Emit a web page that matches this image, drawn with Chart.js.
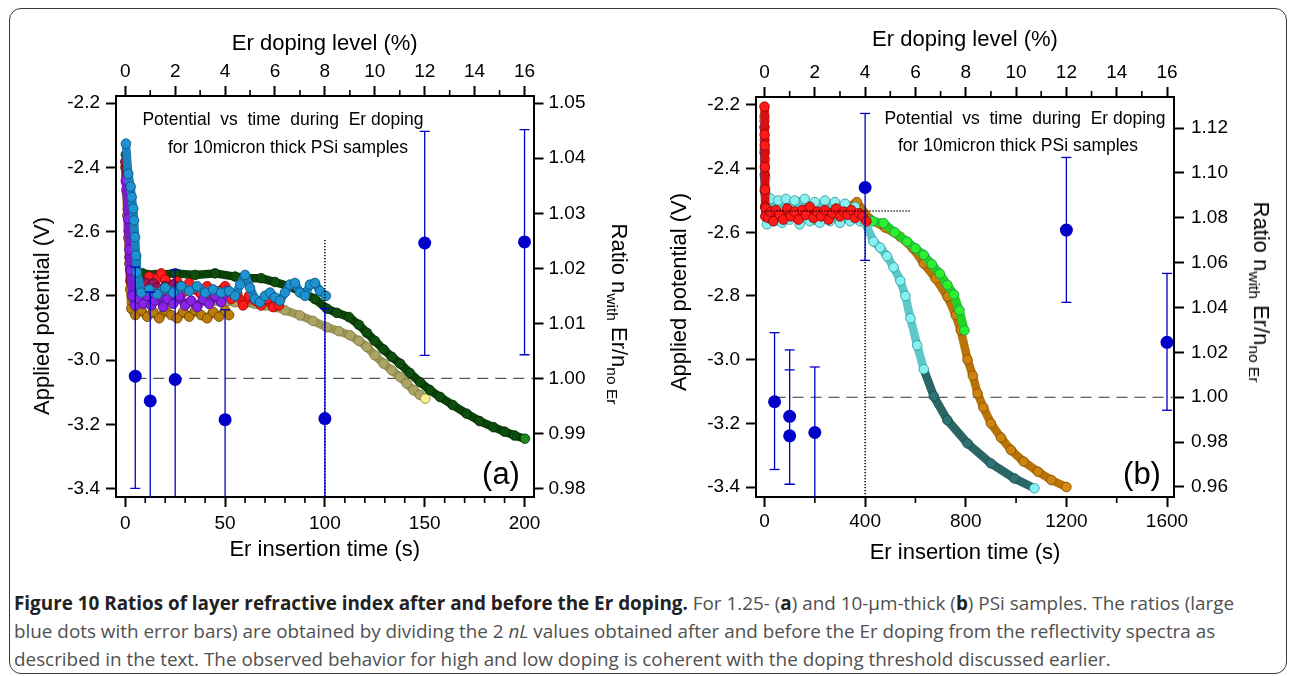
<!DOCTYPE html>
<html>
<head>
<meta charset="utf-8">
<title>Figure 10</title>
<script src="https://cdn.jsdelivr.net/npm/chart.js@4.4.1/dist/chart.umd.min.js"></script>
<style>
  body { margin: 0; background: #fff; }
  #page { position: relative; width: 1290px; height: 676px; overflow: hidden; background: #fff;
          font-family: "Liberation Sans", Arial, sans-serif; }
  .frame { position: absolute; left: 9px; top: 8px; width: 1278px; height: 666px; box-sizing: border-box;
           border: 1.5px solid #3a3a3a; border-radius: 12px; }
  canvas { position: absolute; top: 0; }
  #chartA { left: 0; }
  #chartB { left: 645px; }
  .lbl { position: absolute; transform: translate(-50%, -50%); white-space: pre; color: #000; line-height: 1; }
  .note { font-size: 17.5px; }
  .tag { font-size: 31px; }
  .vt { font-size: 22px; line-height: 22px; transform: translate(-50%, -50%) rotate(-90deg); }
  .vr { font-size: 22px; line-height: 22px; transform: translate(-50%, -50%) rotate(90deg); }
  .vr sub { font-size: 15.5px; vertical-align: -0.3em; line-height: 0; }
  .cap { position: absolute; left: 14px; white-space: nowrap; font-family: "Open Sans", sans-serif;
         font-size: 17px; line-height: 28px; color: #505050; }
  .cap b { color: #222; }
</style>
</head>
<body>
<div id="page">
  <div class="frame"></div>
  <canvas id="chartA" width="645" height="580"></canvas>
  <canvas id="chartB" width="645" height="580"></canvas>

  <div class="lbl note" style="left:283px; top:120px;">Potential  vs  time  during  Er doping</div>
  <div class="lbl note" style="left:288px; top:148px;">for 10micron thick PSi samples</div>
  <div class="lbl note" style="left:1025px; top:119px;">Potential  vs  time  during  Er doping</div>
  <div class="lbl note" style="left:1018px; top:146px;">for 10micron thick PSi samples</div>
  <div class="lbl tag" style="left:501px; top:473px;">(a)</div>
  <div class="lbl tag" style="left:1142px; top:473px;">(b)</div>

  <div class="lbl vt" style="left:42px; top:316px;">Applied potential (V)</div>
  <div class="lbl vt" style="left:679px; top:292px;">Applied potential (V)</div>
  <div class="lbl vr" style="left:619px; top:314px;">Ratio n<sub>with</sub> Er/n<sub>no Er</sub></div>
  <div class="lbl vr" style="left:1261px; top:292px;">Ratio n<sub>with</sub> Er/n<sub>no Er</sub></div>

  <div class="cap" style="top:589px;"><b>Figure 10 Ratios of layer refractive index after and before the Er doping.</b> For 1.25- (<b>a</b>) and 10-µm-thick (<b>b</b>) PSi samples. The ratios (large</div>
  <div class="cap" style="top:617px;">blue dots with error bars) are obtained by dividing the 2 <i>nL</i> values obtained after and before the Er doping from the reflectivity spectra as</div>
  <div class="cap" style="top:645px;">described in the text. The observed behavior for high and low doping is coherent with the doping threshold discussed earlier.</div>
</div>

<script>
// ---------- panel (a): 1.25 micron, potential vs time (s, V) ----------
const aCyanT = [0.3, 1.5, 2.7, 3.2, 4, 4.4, 4.9, 5.4, 5.8, 8, 12, 16, 20, 24, 28, 32, 36, 40, 44, 48, 52, 55, 57.5, 60, 62.5, 65, 67.5, 70, 72.5, 75, 77.5, 80, 82.5, 85, 87.5, 90, 92.5, 95, 97.5, 100.5];
const aCyanV = [-2.326, -2.42, -2.46, -2.492, -2.528, -2.565, -2.617, -2.674, -2.727, -2.79, -2.78, -2.795, -2.775, -2.79, -2.77, -2.785, -2.77, -2.79, -2.78, -2.79, -2.785, -2.80, -2.765, -2.735, -2.775, -2.81, -2.82, -2.80, -2.79, -2.805, -2.815, -2.79, -2.765, -2.76, -2.79, -2.80, -2.765, -2.76, -2.785, -2.80];

const aPurpleT = [0.3, 1.5, 2, 2.7, 3.5, 5, 7, 9, 11, 13, 15, 17, 19, 21, 24, 27, 30, 33, 36, 39, 42, 45, 48, 51];
const aPurpleV = [-2.44, -2.56, -2.656, -2.72, -2.80, -2.83, -2.81, -2.825, -2.80, -2.83, -2.815, -2.80, -2.835, -2.81, -2.825, -2.80, -2.83, -2.815, -2.835, -2.81, -2.825, -2.80, -2.82, -2.785];

const aMaroonT = [0, 0.4, 0.9, 1.3, 1.7, 2.1, 2.6, 4, 6, 8, 10, 12, 14, 16, 18, 20, 22, 24, 26, 28];
const aMaroonV = [-2.383, -2.445, -2.48, -2.53, -2.597, -2.68, -2.753, -2.79, -2.77, -2.79, -2.76, -2.78, -2.76, -2.775, -2.79, -2.77, -2.78, -2.765, -2.78, -2.77];

const aRedT = [2.5, 4, 6, 8, 10, 12, 14, 16, 18, 20, 23, 26, 29, 32, 35, 38, 41, 44, 47, 50, 53, 56, 59, 62, 65, 68, 71, 74, 77];
const aRedV = [-2.72, -2.78, -2.75, -2.79, -2.76, -2.74, -2.77, -2.745, -2.73, -2.75, -2.77, -2.755, -2.79, -2.76, -2.78, -2.795, -2.77, -2.80, -2.785, -2.77, -2.81, -2.79, -2.83, -2.80, -2.815, -2.83, -2.81, -2.835, -2.83];

const aBrownT = [0, 0.5, 1, 1.5, 2, 2.5, 3, 5, 8, 11, 14, 17, 20, 23, 26, 29, 32, 35, 38, 41, 44, 47, 50, 52];
const aBrownV = [-2.40, -2.47, -2.55, -2.62, -2.70, -2.78, -2.84, -2.86, -2.845, -2.865, -2.85, -2.87, -2.845, -2.86, -2.87, -2.85, -2.865, -2.845, -2.86, -2.87, -2.85, -2.865, -2.845, -2.86];

const aGreenT = [0.3, 0.8, 1.5, 2.3, 3.2, 4.5, 8.6, 15, 25, 35, 45, 55, 61, 68, 75, 82, 89.5, 95, 101, 106, 112, 117, 121, 125, 129.4, 133.5, 137.7, 142.5, 147.7, 152.5, 157.7, 164, 171, 177.5, 184.4, 190, 195, 200.2];
const aGreenV = [-2.36, -2.44, -2.53, -2.62, -2.69, -2.73, -2.73, -2.735, -2.73, -2.735, -2.73, -2.74, -2.745, -2.745, -2.757, -2.77, -2.792, -2.81, -2.84, -2.853, -2.866, -2.89, -2.915, -2.94, -2.967, -2.99, -3.011, -3.04, -3.069, -3.093, -3.115, -3.14, -3.167, -3.19, -3.209, -3.223, -3.235, -3.245];

const aOliveT = [45, 50, 55, 60, 65, 70, 75, 80, 87.5, 94, 101, 107, 112.6, 117, 121, 125, 129.4, 133.5, 137.7, 141, 144.4, 147.5, 150.3];
const aOliveV = [-2.815, -2.818, -2.82, -2.822, -2.825, -2.83, -2.835, -2.845, -2.861, -2.878, -2.898, -2.91, -2.923, -2.94, -2.959, -2.985, -3.011, -3.032, -3.053, -3.073, -3.094, -3.108, -3.12];

// panel (a): refractive index ratios with error bars
const aRatioT  = [5, 12.5, 25, 50, 100, 150, 200];
const aRatio   = [1.0004, 0.9959, 0.9998, 0.9925, 0.9927, 1.0246, 1.0248];
const aRatioLo = [0.9800, 0.9760, 0.9770, 0.9725, 0.9727, 1.0042, 1.0043];
const aRatioHi = [1.0202, 1.0157, 1.0197, 1.0125, 1.0127, 1.0449, 1.0452];
const aMarkT = 100;      // 8 % doping threshold
const aMarkTopV = -2.626;

// ---------- panel (b): 10 micron ----------
const bRedT = [0, 0.5, 1, 1.5, 2, 2.5, 3, 6, 15, 25, 35, 45, 60, 75, 90, 105, 120, 135, 150, 165, 180, 195, 210, 225, 240, 255, 270, 285, 300, 315, 330, 345, 360, 375, 390, 405];
const bRedV = [-2.205, -2.293, -2.327, -2.395, -2.466, -2.52, -2.55, -2.525, -2.555, -2.535, -2.565, -2.53, -2.545, -2.56, -2.525, -2.55, -2.535, -2.56, -2.53, -2.545, -2.52, -2.555, -2.535, -2.55, -2.53, -2.56, -2.54, -2.525, -2.55, -2.535, -2.545, -2.53, -2.555, -2.54, -2.55, -2.565];

const bBlueT = [0, 0.5, 1, 1.5];
const bBlueV = [-2.27, -2.35, -2.42, -2.47];

const bTealT = [0, 1, 2, 3, 4, 10, 25, 40, 55, 70, 85, 100, 120, 140, 160, 180, 200, 220, 240, 260, 280, 300, 320, 340, 360, 380, 400, 433, 460, 487, 513, 540, 560, 580, 607, 633, 673, 727, 807, 900, 993, 1073];
const bTealV = [-2.25, -2.31, -2.37, -2.43, -2.48, -2.575, -2.495, -2.565, -2.50, -2.57, -2.495, -2.56, -2.50, -2.575, -2.495, -2.565, -2.505, -2.57, -2.50, -2.565, -2.505, -2.57, -2.51, -2.565, -2.52, -2.565, -2.57, -2.629, -2.648, -2.675, -2.71, -2.752, -2.80, -2.87, -2.955, -3.03, -3.115, -3.19, -3.263, -3.326, -3.373, -3.404];

const bGreenT = [0, 1, 2, 3, 20, 60, 100, 150, 200, 250, 300, 350, 393, 430, 473, 518, 567, 600, 633, 665, 697, 727, 753, 775, 795];
const bGreenV = [-2.236, -2.34, -2.46, -2.52, -2.55, -2.54, -2.555, -2.545, -2.56, -2.55, -2.56, -2.555, -2.556, -2.565, -2.571, -2.60, -2.629, -2.65, -2.671, -2.70, -2.73, -2.765, -2.795, -2.845, -2.908];

const bOrangeT = [60, 130, 200, 290, 367, 420, 480, 540, 590, 633, 680, 727, 760, 780, 807, 828, 847, 870, 900, 940, 980, 1030, 1087, 1140, 1200];
const bOrangeV = [-2.54, -2.505, -2.545, -2.54, -2.505, -2.56, -2.585, -2.614, -2.65, -2.698, -2.745, -2.802, -2.86, -2.907, -3.0, -3.05, -3.106, -3.15, -3.2, -3.245, -3.284, -3.32, -3.352, -3.378, -3.40];

const bRatioT  = [40, 100, 100, 200, 400, 1200, 1600];
const bRatio   = [0.998, 0.9915, 0.9828, 0.9843, 1.0935, 1.0745, 1.0245];
const bRatioLo = [0.9678, 0.9612, 0.9612, 0.9550, 1.0610, 1.0423, 0.9942];
const bRatioHi = [1.0288, 1.0211, 1.0122, 1.0135, 1.1265, 1.1069, 1.0552];
const bMarkT = 400;      // 4 % doping threshold
const bMarkV = -2.533;
const bMarkEndT = 580;

const ratioRef = 1.00;

// ---------- tick labels ----------
const aTimeTicks = [0, 50, 100, 150, 200];
const aTimeMinor = [10, 20, 30, 40, 60, 70, 80, 90, 110, 120, 130, 140, 160, 170, 180, 190];
const bTimeTicks = [0, 400, 800, 1200, 1600];
const bTimeMinor = [200, 600, 1000, 1400];
const dopingTicks = [0, 2, 4, 6, 8, 10, 12, 14, 16];
const dopingMinor = [1, 3, 5, 7, 9, 11, 13, 15];
const potentialTicks = [-3.4, -3.2, -3.0, -2.8, -2.6, -2.4, -2.2];
const aRatioTicks = [0.98, 0.99, 1.00, 1.01, 1.02, 1.03, 1.04, 1.05];
const bRatioTicks = [0.96, 0.98, 1.00, 1.02, 1.04, 1.06, 1.08, 1.10, 1.12];

// ---------- helpers ----------
const FONT = 'Liberation Sans';
const BLUE = '#0000c8';

function pts(ts, vs) { return ts.map((t, i) => ({x: t, y: vs[i]})); }

function curve(ts, vs, st) {
  const last = ts.length - 1;
  const ds = {
    data: pts(ts, vs), xAxisID: 'x', yAxisID: 'y', showLine: true,
    borderColor: st.band, borderWidth: 8.5, borderJoinStyle: 'round', borderCapStyle: 'round',
    pointRadius: 4.8, pointBorderWidth: 0.8,
    pointBorderColor: st.edgeFn || st.edge,
    pointBackgroundColor: st.fillFn || (c => (st.end && c.dataIndex === last) ? st.end : st.fill)
  };
  if (st.segBand) ds.segment = {borderColor: st.segBand};
  return ds;
}

function ratioDots(ts, rs) {
  return { data: pts(ts, rs), xAxisID: 'x', yAxisID: 'y2', showLine: false,
           pointRadius: 6.5, pointBackgroundColor: BLUE, pointBorderColor: BLUE, pointBorderWidth: 0 };
}

function ratioBars(ts, lo, hi) {
  const d = [];
  ts.forEach((t, i) => d.push({x: t, y: lo[i]}, {x: t, y: hi[i]}, {x: t, y: null}));
  return { data: d, xAxisID: 'x', yAxisID: 'y2', showLine: true, spanGaps: false,
           borderColor: BLUE, borderWidth: 1.3, pointStyle: 'line', pointRadius: 5,
           pointBorderColor: BLUE, pointBorderWidth: 1.3, pointBackgroundColor: BLUE };
}

function refLine(d, yId, color, dash, w) {
  return { data: d, xAxisID: 'x', yAxisID: yId, showLine: true, borderColor: color,
           borderWidth: w, borderDash: dash, pointRadius: 0 };
}

function linAxis(o) {
  return {
    type: 'linear', position: o.pos, min: o.min, max: o.max, display: true,
    border: {display: true, color: '#000', width: 2},
    grid: {display: true, drawOnChartArea: false, drawTicks: true, tickLength: 10, tickWidth: 2, tickColor: '#000'},
    ticks: {autoSkip: false, maxRotation: 0, color: '#000', padding: o.pad,
            font: {family: FONT, size: 19}, callback: v => o.fmt(v)},
    title: o.title ? {display: true, text: o.title, color: '#000', font: {family: FONT, size: 22}, padding: o.titlePad}
                   : {display: false},
    afterBuildTicks: s => { s.ticks = o.ticks.map(v => ({value: v})); },
    afterFit: s => { if (s.isHorizontal()) s.height = o.size; else s.width = o.size; }
  };
}

function minorTicks(lists) {
  return {
    id: 'minorTicks',
    afterDraw(chart) {
      const {ctx, chartArea: a, scales} = chart;
      ctx.save();
      ctx.strokeStyle = '#000';
      ctx.lineWidth = 1.6;
      ctx.beginPath();
      Object.keys(lists).forEach(id => {
        const s = scales[id];
        lists[id].forEach(v => {
          const p = s.getPixelForValue(v);
          if (s.position === 'bottom') { ctx.moveTo(p, a.bottom); ctx.lineTo(p, a.bottom + 6); }
          else if (s.position === 'top') { ctx.moveTo(p, a.top); ctx.lineTo(p, a.top - 6); }
        });
      });
      ctx.stroke();
      ctx.restore();
    }
  };
}

const fmt0 = v => String(Math.round(v));
const fmt1 = v => v.toFixed(1);
const fmt2 = v => v.toFixed(2);

function build(canvasId, r, sizes, t, datasets, minor) {
  return new Chart(document.getElementById(canvasId), {
    type: 'scatter',
    data: {datasets},
    options: {
      responsive: false, animation: false, events: [],
      layout: {padding: 0},
      plugins: {legend: {display: false}, tooltip: {enabled: false}},
      scales: {
        x: linAxis({pos: 'bottom', min: r.tMin, max: r.tMax, ticks: t.time, fmt: fmt0, pad: sizes.xPad,
                    size: sizes.bottom, title: 'Er insertion time (s)', titlePad: {top: 0, bottom: sizes.xTitle}}),
        x2: linAxis({pos: 'top', min: r.tMin / r.sPerPct, max: r.tMax / r.sPerPct, ticks: dopingTicks, fmt: fmt0,
                     pad: 3, size: sizes.top, title: 'Er doping level (%)', titlePad: {top: sizes.x2Title, bottom: 0}}),
        y: linAxis({pos: 'left', min: r.vMin, max: r.vMax, ticks: potentialTicks, fmt: fmt1, pad: 6, size: sizes.left}),
        y2: linAxis({pos: 'right', min: r.rMin, max: r.rMax, ticks: t.ratio, fmt: fmt2, pad: sizes.y2Pad, size: sizes.right})
      }
    },
    plugins: [minorTicks(minor)]
  });
}

// ---------- panel (a) ----------
const aRange = {tMin: -4.65, tMax: 204.5, sPerPct: 12.5, vMin: -3.4265, vMax: -2.1776, rMin: 0.97845, rMax: 1.05131};
build('chartA', aRange,
  {left: 116, right: 111.5, top: 96, bottom: 83, xPad: 5, xTitle: 17, x2Title: 31, y2Pad: 5},
  {time: aTimeTicks, ratio: aRatioTicks},
  [
    ratioDots(aRatioT, aRatio),
    ratioBars(aRatioT, aRatioLo, aRatioHi),
    refLine([{x: aMarkT, y: aMarkTopV}, {x: aMarkT, y: aRange.vMin}], 'y', '#000', [1.2, 1.8], 1.5),
    curve(aCyanT, aCyanV, {fill: '#1f93d2', edge: '#0a4f78', band: '#1a82bc'}),
    curve(aPurpleT, aPurpleV, {fill: '#8b22e8', edge: '#45107a', band: '#7a1ccc'}),
    curve(aMaroonT, aMaroonV, {fill: '#9e1656', edge: '#4c0626', band: '#86104a'}),
    curve(aRedT, aRedV, {fill: '#ff1c1c', edge: '#9a0000', band: '#e81414'}),
    curve(aBrownT, aBrownV, {fill: '#ba7d0c', edge: '#6a4300', band: '#a66e08'}),
    curve(aGreenT, aGreenV, {fill: '#0d4d0d', edge: '#032a03', band: '#0a420a', end: '#1b8a1b'}),
    curve(aOliveT, aOliveV, {fill: '#aba465', edge: '#7c773f', band: '#9e9858', end: '#f6f38c'}),
    refLine([{x: aRatioT[0], y: ratioRef}, {x: aRange.tMax, y: ratioRef}], 'y2', '#555', [11, 7], 1.2)
  ],
  {x: aTimeMinor, x2: dopingMinor}
);

// ---------- panel (b) ----------
const bRange = {tMin: -33.8, tMax: 1627.8, sPerPct: 100, vMin: -3.4314, vMax: -2.1749, rMin: 0.95554, rMax: 1.13384};
const tealLight = '#88f0f0', tealDark = '#2f7272';
const tealSplitV = -3.05;
const isLow = c => c.raw && c.raw.y < tealSplitV && c.dataIndex !== bTealT.length - 1;
build('chartB', bRange,
  {left: 111, right: 116, top: 97, bottom: 83, xPad: 3, xTitle: 13.5, x2Title: 26.5, y2Pad: 7},
  {time: bTimeTicks, ratio: bRatioTicks},
  [
    ratioDots(bRatioT, bRatio),
    ratioBars(bRatioT, bRatioLo, bRatioHi),
    refLine([{x: 0, y: bMarkV}, {x: bMarkEndT, y: bMarkV}], 'y', '#000', [1.2, 1.8], 1.5),
    refLine([{x: bMarkT, y: bMarkV}, {x: bMarkT, y: bRange.vMin}], 'y', '#000', [1.2, 1.8], 1.5),
    curve(bRedT, bRedV, {fill: '#ff1a1a', edge: '#8f0000', band: '#d81010'}),
    curve(bBlueT, bBlueV, {fill: '#2350c8', edge: '#0f2a80', band: '#2350c8'}),
    curve(bTealT, bTealV, {
      band: '#5ec8c8',
      segBand: c => c.p1.parsed.y < tealSplitV ? '#2a6666' : '#5ec8c8',
      fillFn: c => isLow(c) ? tealDark : tealLight,
      edgeFn: c => isLow(c) ? '#1b4a4a' : '#2c9494'
    }),
    curve(bGreenT, bGreenV, {fill: '#2cf02c', edge: '#1b8f5a', band: '#22d422'}),
    curve(bOrangeT, bOrangeV, {fill: '#cc820c', edge: '#7a4a00', band: '#b87408', end: '#d98c12'}),
    refLine([{x: bRatioT[0], y: ratioRef}, {x: bRange.tMax, y: ratioRef}], 'y2', '#333', [11, 7], 1.2)
  ],
  {x: bTimeMinor, x2: dopingMinor}
);

// ---------- caption: fit the three lines to the printed line widths ----------
const capLines = document.querySelectorAll('.cap');
const capWidths = [1225, 1196, 1097];
let k = 0;
capLines.forEach((el, i) => { k += capWidths[i] / el.getBoundingClientRect().width; });
k /= capLines.length;
capLines.forEach(el => { el.style.fontSize = (17 * k).toFixed(2) + 'px'; });
</script>
</body>
</html>
